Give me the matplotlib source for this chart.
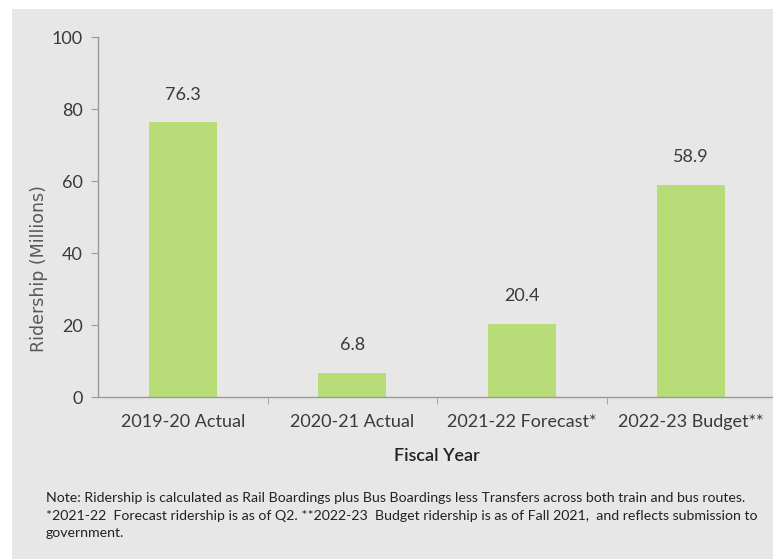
import matplotlib.pyplot as plt
from matplotlib.patches import Rectangle

categories = ['2019-20 Actual', '2020-21 Actual', '2021-22 Forecast*', '2022-23 Budget**']
ridership = [76.3, 6.8, 20.4, 58.9]
yticks = [0, 20, 40, 60, 80, 100]

note = ("Note: Ridership is calculated as Rail Boardings plus Bus Boardings less Transfers across both train and bus routes.\n"
        "*2021-22  Forecast ridership is as of Q2. **2022-23  Budget ridership is as of Fall 2021,  and reflects submission to\n"
        "government.")

W, H = 773, 559
bg = '#e7e7e7'
txt = '#3a3a3a'

fig = plt.figure(figsize=(W / 100, H / 100), dpi=100, facecolor='white')
fig.patches.append(Rectangle((12 / W, 0), 1, 1 - 9 / H, transform=fig.transFigure,
                             facecolor=bg, edgecolor='none', zorder=-1))

ax = fig.add_axes([98 / W, 1 - 397 / H, (776 - 98) / W, (397 - 37) / H])
ax.set_facecolor(bg)

x = range(len(categories))
ax.bar(x, ridership, width=0.4, color='#b8dc78', zorder=2)
for i, v in zip(x, ridership):
    ax.annotate(f'{v}', (i, v), xytext=(0, 20), textcoords='offset points',
                ha='center', va='center', fontsize=13, color=txt, family='Lato')

ax.set_xlim(-0.5, len(categories) - 0.5)
ax.set_ylim(0, 100)
ax.set_yticks(yticks)
ax.set_xticks(list(x))
ax.set_xticklabels(categories)
ax.set_xticks([i + 0.5 for i in range(len(categories) - 1)], minor=True)

for s in ['top', 'right']:
    ax.spines[s].set_visible(False)
for s in ['left', 'bottom']:
    ax.spines[s].set_color('#9a9a9a')
    ax.spines[s].set_linewidth(1)

ax.tick_params(axis='y', length=5, color='#9a9a9a', labelsize=13, labelcolor=txt, pad=6)
ax.tick_params(axis='x', which='major', length=0, labelsize=13, labelcolor=txt, pad=12)
ax.tick_params(axis='x', which='minor', length=5, color='#9a9a9a')
for lab in ax.get_xticklabels() + ax.get_yticklabels():
    lab.set_family('Lato')

# axis title sits lower than the middle of the axis
ax.set_ylabel('Ridership (Millions)', fontsize=12.5, color='#585858')
ax.yaxis.set_label_coords(-0.074, 0.358)
ax.set_xlabel('Fiscal Year', fontsize=13, color='#222222', family='Lato',
              fontweight='semibold', labelpad=13)

fig.text(46 / W, 1 - 492 / H, note, fontsize=10.2, color='#222222', family='Lato',
         va='top', ha='left', linespacing=1.55)

fig.savefig('out.png', dpi=100, facecolor=fig.get_facecolor())
